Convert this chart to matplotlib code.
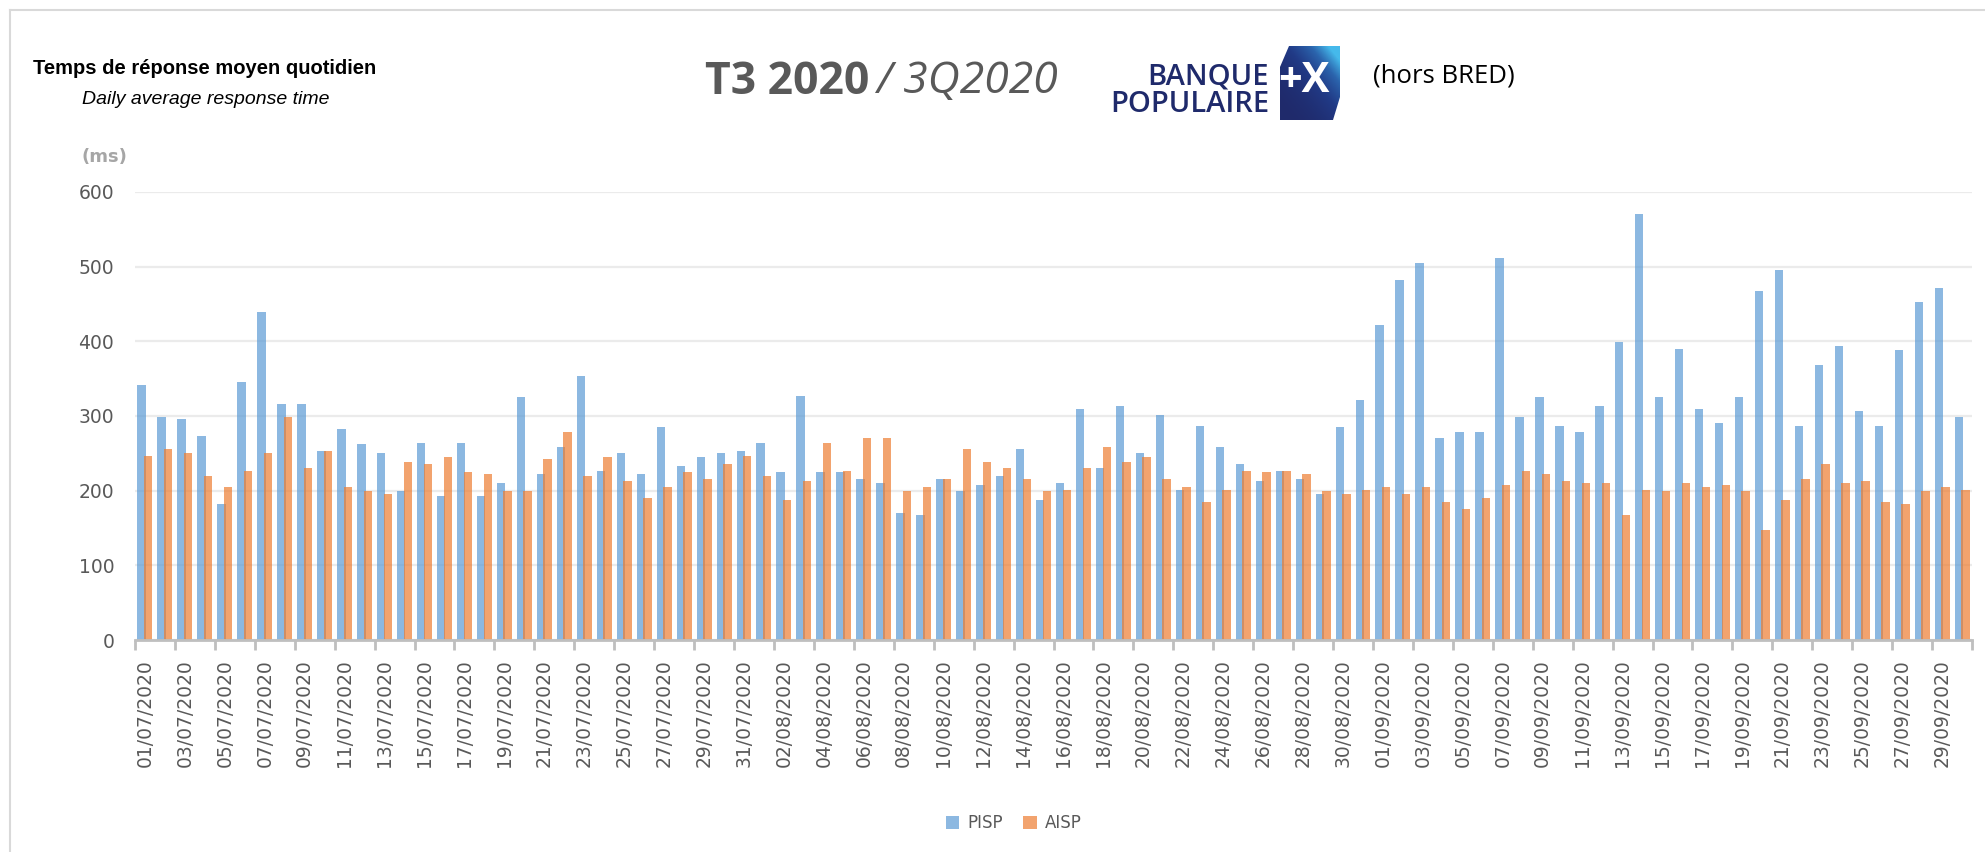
import matplotlib
matplotlib.use("Agg")
import matplotlib.pyplot as plt
import numpy as np
import pandas as pd
from matplotlib.patches import Polygon, Patch
from matplotlib.colors import LinearSegmentedColormap

# données (ms), 01/07/2020 -> 30/09/2020
pisp = [342, 299, 296, 273, 182, 345, 439, 316, 316, 253,
        282, 262, 250, 199, 264, 193, 264, 193, 210, 325,
        222, 259, 353, 227, 250, 222, 285, 233, 245, 250,
        253, 264, 225, 327, 225, 225, 216, 210, 170, 168,
        216, 199, 207, 219, 256, 187, 210, 310, 230, 313,
        250, 302, 201, 287, 259, 236, 213, 227, 216, 196,
        285, 322, 422, 482, 505, 270, 279, 279, 511, 299,
        325, 287, 279, 313, 399, 571, 325, 390, 310, 290,
        325, 468, 496, 287, 368, 394, 307, 287, 388, 453, 471, 299]
aisp = [247, 256, 250, 219, 205, 227, 250, 299, 230, 253,
        205, 199, 196, 239, 236, 245, 225, 222, 199, 199,
        242, 279, 219, 245, 213, 190, 205, 225, 216, 236,
        247, 219, 187, 213, 264, 227, 270, 270, 199, 205,
        216, 256, 239, 230, 216, 199, 201, 230, 259, 239,
        245, 216, 205, 185, 201, 227, 225, 227, 222, 199,
        196, 201, 205, 196, 205, 185, 176, 190, 207, 227,
        222, 213, 210, 210, 168, 201, 199, 210, 205, 207,
        199, 147, 187, 216, 236, 210, 213, 185, 182, 199, 205, 201]
dates = pd.date_range("2020-07-01", "2020-09-30").strftime("%d/%m/%Y").tolist()
series_names = ["PISP", "AISP"]
y_ticks = [0, 100, 200, 300, 400, 500, 600]

BLUE = "#5B9BD5"
ORANGE = "#ED7D31"
GREY = "#595959"

W, H = 1985, 852
fig = plt.figure(figsize=(W / 100, H / 100), dpi=100)

# zone du graphique
ax = fig.add_axes([135 / W, 1 - 640 / H, (1972 - 135) / W, (640 - 192) / H])
x = np.arange(len(dates))
bw = 0.42
ax.bar(x - 0.165, pisp, width=bw, color=BLUE, alpha=0.7, linewidth=0, zorder=2)
ax.bar(x + 0.165, aisp, width=bw, color=ORANGE, alpha=0.7, linewidth=0, zorder=3)

ax.set_xlim(-0.5, len(dates) - 0.5)
ax.set_ylim(0, 600)
ax.set_yticks(y_ticks)
ax.yaxis.grid(True, color="#EBEBEB", linewidth=1.6, zorder=0)
ax.set_axisbelow(True)
for s in ["top", "right", "left"]:
    ax.spines[s].set_visible(False)
ax.spines["bottom"].set_color("#BFBFBF")
ax.spines["bottom"].set_linewidth(2)
ax.spines["bottom"].set_zorder(5)

ax.tick_params(axis="y", length=0, pad=15, labelsize=13.5, labelcolor=GREY)
ax.set_xticks(x[::2])
ax.set_xticklabels(dates[::2], rotation=90, fontsize=13.5, color=GREY)
ax.tick_params(axis="x", which="major", length=0, pad=14)
ax.set_xticks(np.arange(-0.5, len(dates), 2), minor=True)
ax.tick_params(axis="x", which="minor", length=7, width=2, color="#BFBFBF")

# calque en coordonnées pixels pour les textes et le logo
ov = fig.add_axes([0, 0, 1, 1], zorder=10)
ov.set_xlim(0, W)
ov.set_ylim(H, 0)
ov.axis("off")
ov.patch.set_alpha(0)

ov.plot([10, W], [9.5, 9.5], color="#D9D9D9", lw=1.5)
ov.plot([10, 10], [9.5, H], color="#D9D9D9", lw=1.5)

ov.text(205, 68, "Temps de réponse moyen quotidien", ha="center", va="center",
        fontsize=14.5, fontweight="bold", color="black",
        family=["Liberation Sans Narrow", "Liberation Sans", "DejaVu Sans"])
ov.text(206, 100, "Daily average response time", ha="center", va="center",
        fontsize=14, style="italic", color="black",
        family=["Liberation Sans", "DejaVu Sans"])

ov.text(705, 82, "T3 2020", ha="left", va="center", fontsize=32,
        fontweight="bold", color=GREY, family=["Open Sans", "DejaVu Sans"])
ov.text(876, 82, "/ 3Q2020", ha="left", va="center", fontsize=32,
        style="italic", color=GREY, family=["Open Sans", "DejaVu Sans"])

# logo Banque Populaire
NAVY = "#1F2A6B"
ov.text(1269, 77, "BANQUE", ha="right", va="center", fontsize=21,
        fontweight="semibold", color=NAVY, family=["Open Sans", "DejaVu Sans"])
ov.text(1269, 105, "POPULAIRE", ha="right", va="center", fontsize=21,
        fontweight="semibold", color=NAVY, family=["Open Sans", "DejaVu Sans"])
block = Polygon([(1289, 46), (1340, 46), (1340, 97), (1333, 120), (1280, 120), (1280, 67)],
                closed=True, facecolor="none", edgecolor="none", transform=ov.transData)
ov.add_patch(block)
gx, gy = np.meshgrid(np.linspace(0, 1, 60), np.linspace(0, 1, 74))
t = np.clip(gx * 0.55 + (1 - gy) * 0.55, 0, 1) ** 2.2
cmap = LinearSegmentedColormap.from_list("bp", ["#1F2A6B", "#213A86", "#2B64AD", "#45B9EB"])
im = ov.imshow(t, cmap=cmap, extent=(1280, 1340, 120, 46), origin="upper",
               aspect="auto", interpolation="bilinear", zorder=2)
im.set_clip_path(block)
ov.set_xlim(0, W)
ov.set_ylim(H, 0)
ov.text(1304, 81, "+X", ha="center", va="center", fontsize=30, fontweight="bold",
        color="white", family=["Open Sans", "DejaVu Sans"], zorder=3)

ov.text(1373, 76, "(hors BRED)", ha="left", va="center", fontsize=18.5,
        color="black", family=["Open Sans", "DejaVu Sans"])

ov.text(104, 157, "(ms)", ha="center", va="center", fontsize=13,
        fontweight="bold", color="#A6A6A6")

# légende
handles = [Patch(facecolor=BLUE, alpha=0.7, linewidth=0),
           Patch(facecolor=ORANGE, alpha=0.7, linewidth=0)]
fig.legend(handles, series_names, loc="center", bbox_to_anchor=(1014 / W, 1 - 823 / H),
           ncol=2, frameon=False, fontsize=12, handlelength=0.8, handleheight=0.8,
           handletextpad=0.5, columnspacing=1.2, labelcolor=GREY)

fig.savefig("out.png", dpi=100, facecolor="white")
